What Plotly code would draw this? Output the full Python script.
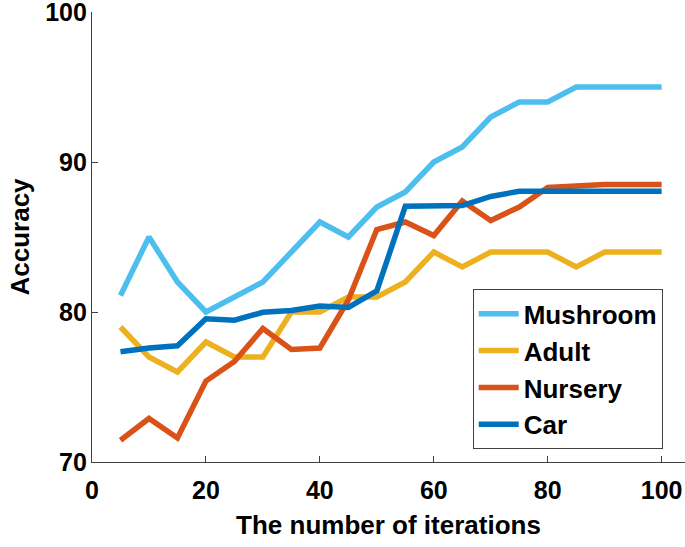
import plotly.graph_objects as go

iterations = [5, 10, 15, 20, 25, 30, 35, 40, 45, 50, 55, 60, 65, 70, 75, 80, 85, 90, 95, 100]
mushroom = [81.1, 85.0, 82.0, 80.0, 81.0, 82.0, 84.0, 86.0, 85.0, 87.0, 88.0, 90.0, 91.0, 93.0, 94.0, 94.0, 95.0, 95.0, 95.0, 95.0]
adult = [79.0, 77.0, 76.0, 78.0, 77.0, 77.0, 80.0, 80.0, 81.0, 81.0, 82.0, 84.0, 83.0, 84.0, 84.0, 84.0, 83.0, 84.0, 84.0, 84.0]
nursery = [71.45, 72.9, 71.6, 75.4, 76.7, 78.9, 77.5, 77.6, 80.8, 85.5, 86.0, 85.1, 87.4, 86.1, 87.0, 88.3, 88.4, 88.5, 88.5, 88.5]
car = [77.35, 77.6, 77.75, 79.55, 79.45, 79.98, 80.1, 80.4, 80.3, 81.4, 87.05, 87.08, 87.1, 87.7, 88.05, 88.05, 88.05, 88.05, 88.05, 88.05]

series_names = ["Mushroom", "Adult", "Nursery", "Car"]
series_values = [mushroom, adult, nursery, car]
colors = ["#4DBEEE", "#EDB120", "#D95319", "#0072BD"]

x_ticks = [0, 20, 40, 60, 80, 100]
y_ticks = [70, 80, 90, 100]

FONT = "Liberation Sans, Arial, sans-serif"

fig = go.Figure()
for name, vals, col in zip(series_names, series_values, colors):
    fig.add_trace(go.Scatter(x=iterations, y=vals, mode="lines", name=name,
                             line=dict(color=col, width=5.5)))

axis_common = dict(showgrid=False, zeroline=False, showline=True, linecolor="#404040",
                   linewidth=1.3, ticks="inside", ticklen=6, tickwidth=1.3, tickcolor="#404040",
                   tickfont=dict(family=FONT, size=25, color="black", weight="bold"),
                   mirror=False, automargin=False, ticklabeloverflow="allow")

fig.update_layout(
    width=685, height=547,
    margin=dict(l=92, r=0, t=12, b=85),
    paper_bgcolor="white", plot_bgcolor="white",
    font=dict(family=FONT, color="black", weight="bold"),
    showlegend=True,
    legend=dict(x=0.9624, y=0.028, xanchor="right", yanchor="bottom",
                bgcolor="white", bordercolor="#404040", borderwidth=1,
                font=dict(family=FONT, size=26, color="black", weight="bold"),
                itemwidth=40),
)
fig.update_xaxes(range=[0, 104.1], tickvals=x_ticks, ticktext=[str(v) for v in x_ticks],
                 ticklabelstandoff=6,
                 title=dict(text="The number of iterations", standoff=12,
                            font=dict(family=FONT, size=26, color="black", weight="bold")),
                 **axis_common)
fig.update_yaxes(range=[70, 100], tickvals=y_ticks, ticktext=[str(v) for v in y_ticks],
                 ticklabelstandoff=-1,
                 title=dict(text="Accuracy", standoff=8,
                            font=dict(family=FONT, size=26, color="black", weight="bold")),
                 **axis_common)

fig.write_html("out.html", config={"displayModeBar": False},
               post_script="document.body.style.margin='0';")
